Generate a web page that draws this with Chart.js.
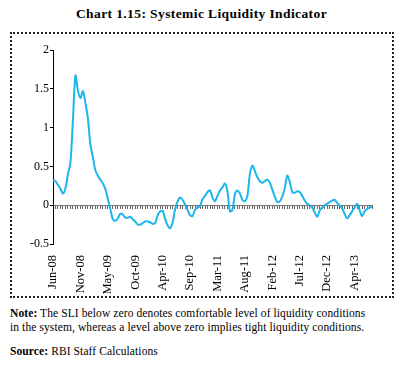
<!DOCTYPE html>
<html>
<head>
<meta charset="utf-8">
<script src="https://cdn.jsdelivr.net/npm/chart.js@4.4.1/dist/chart.umd.min.js"></script>
<style>
  body { margin: 0; background: #fff; font-family: "Liberation Serif", serif; color: #000; }
  #title { position: absolute; left: 0; top: 6px; width: 403px; text-align: center; font-weight: bold; font-size: 13.5px; letter-spacing: 0.4px; }
  #frame { position: absolute; left: 10px; top: 32px; width: 380px; height: 262px; border: 2px dotted #222; }
  #wrap { position: absolute; left: 12px; top: 34px; width: 378px; height: 260px; }
  #note { position: absolute; left: 10px; top: 306px; white-space: nowrap; font-size: 11.5px; line-height: 14px; letter-spacing: 0.1px; }
  #source { position: absolute; left: 10px; top: 345px; font-size: 11.5px; letter-spacing: 0.1px; }
</style>
</head>
<body>
<div id="title">Chart 1.15: Systemic Liquidity Indicator</div>
<div id="frame"></div>
<div id="wrap"><canvas id="myChart" width="378" height="260"></canvas></div>
<div id="note"><b>Note:</b> The SLI below zero denotes comfortable level of liquidity conditions<br>in the system, whereas a level above zero implies tight liquidity conditions.</div>
<div id="source"><b>Source:</b> RBI Staff Calculations</div>
<script>
// fortnightly SLI readings, Jun-08 to mid 2013
const sliValues = [
  0.32, 0.31, 0.26, 0.21, 0.15, 0.22, 0.40, 0.55, 1.10, 1.67,
  1.48, 1.38, 1.47, 1.32, 1.12, 0.78, 0.62, 0.45, 0.38, 0.33,
  0.28, 0.21, 0.08, -0.05, -0.18, -0.20, -0.17, -0.11, -0.12, -0.16,
  -0.16, -0.15, -0.18, -0.21, -0.25, -0.25, -0.23, -0.21, -0.21, -0.22,
  -0.24, -0.23, -0.13, -0.08, -0.07, -0.18, -0.26, -0.30, -0.22, -0.05,
  0.05, 0.10, 0.07, 0.01, -0.06, -0.13, -0.14, -0.06, -0.03, -0.01,
  0.08, 0.12, 0.17, 0.19, 0.10, 0.05, 0.12, 0.19, 0.23, 0.28,
  0.18, -0.08, -0.06, 0.14, 0.19, 0.15, 0.07, 0.05, 0.12, 0.40,
  0.51, 0.44, 0.36, 0.31, 0.29, 0.31, 0.33, 0.29, 0.20, 0.11,
  0.04, 0.05, 0.11, 0.22, 0.38, 0.30, 0.17, 0.16, 0.18, 0.17,
  0.12, 0.06, 0.02, 0.00, -0.03, -0.09, -0.15, -0.07, -0.03, 0.00,
  0.02, 0.04, 0.06, 0.07, 0.03, 0.00, -0.04, -0.11, -0.17, -0.13,
  -0.08, -0.03, 0.02, -0.06, -0.14, -0.08, -0.05, -0.03, -0.02
];
// one label every 11 fortnights
const tickLabels = ['Jun-08', 'Nov-08', 'May-09', 'Oct-09', 'Apr-10', 'Sep-10',
                    'Mar-11', 'Aug-11', 'Feb-12', 'Jul-12', 'Dec-12', 'Apr-13'];
const labelEvery = 11;
const yTicks = [2, 1.5, 1, 0.5, 0, -0.5];

const categories = sliValues.map((v, i) => i);   // one category per fortnight
const serif = '"Liberation Serif", serif';

const ctx = document.getElementById('myChart');

new Chart(ctx, {
    type: 'line',
    data: {
        labels: categories,
        datasets: [{
            label: 'SLI',
            data: sliValues,
            borderColor: '#1cb5ec',
            borderWidth: 2,
            pointRadius: 0,
            tension: 0.3,
            xAxisID: 'x',
            yAxisID: 'y'
        }]
    },
    options: {
        responsive: false,
        animation: false,
        layout: { padding: { top: 16, right: 18, left: 0, bottom: 0 } },
        plugins: { legend: { display: false }, tooltip: { enabled: false } },
        scales: {
            x: {                         // the zero line with its dense ticks
                type: 'category',
                position: { y: 0 },
                offset: false,
                grid: { drawOnChartArea: false, drawTicks: true, tickLength: 3, color: '#666' },
                border: { display: true, color: '#777', width: 1 },
                ticks: { display: false, autoSkip: false }
            },
            x2: {                        // date labels at the bottom
                type: 'category',
                position: 'bottom',
                offset: false,
                grid: { display: false },
                border: { display: false },
                ticks: {
                    autoSkip: false,
                    minRotation: 90,
                    maxRotation: 90,
                    padding: 3,
                    color: '#000',
                    font: { family: serif, size: 12.5 },
                    callback: function(val, index) {
                        return index % labelEvery === 0 ? tickLabels[index / labelEvery] : '';
                    }
                },
                afterFit: function(scale) { scale.height = 50; }
            },
            y: {
                min: -0.5,
                max: 2,
                grid: { drawOnChartArea: false, drawTicks: true, tickLength: 3, color: '#000' },
                border: { display: true, color: '#000', width: 1 },
                afterBuildTicks: function(scale) { scale.ticks = yTicks.map(v => ({ value: v })); },
                ticks: {
                    padding: 1,
                    color: '#000',
                    font: { family: serif, size: 12 },
                    callback: v => String(v)
                },
                afterFit: function(scale) { scale.width = 41; }
            }
        }
    }
});
</script>
</body>
</html>
